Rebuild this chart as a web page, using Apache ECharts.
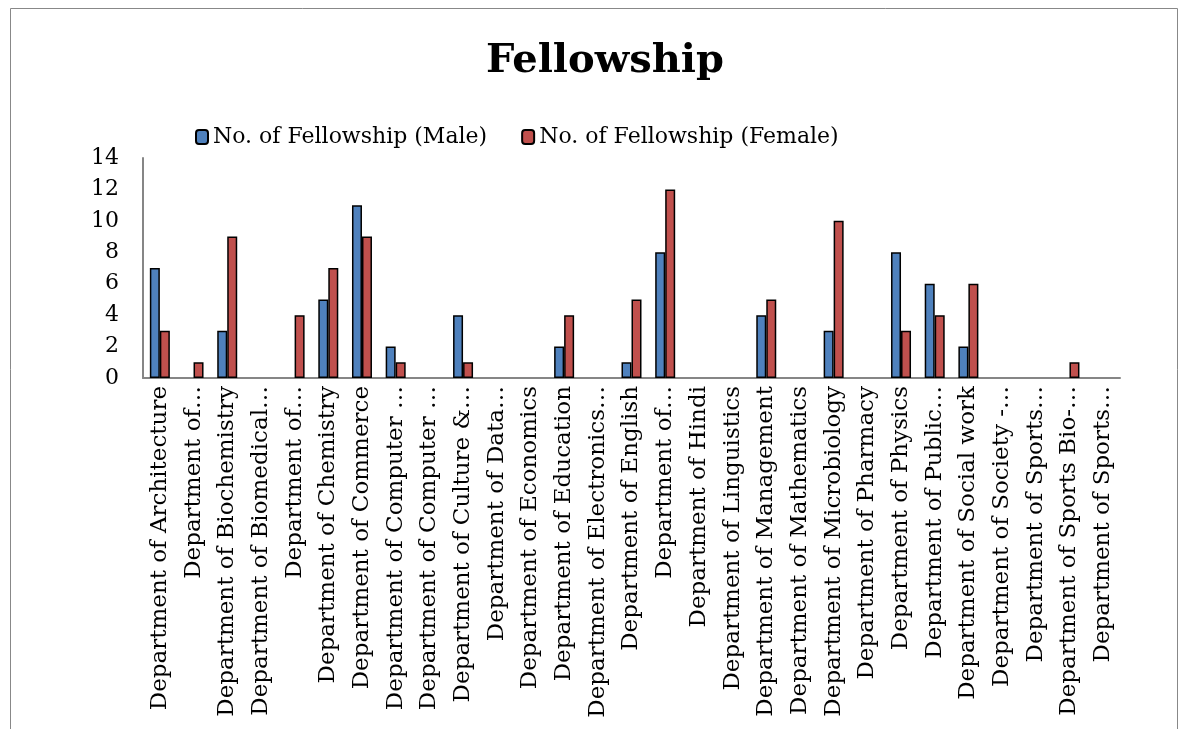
<!DOCTYPE html>
<html><head><meta charset="utf-8">
<script src="https://cdn.jsdelivr.net/npm/echarts@6/dist/echarts.min.js"></script>
<style>html,body{margin:0;padding:0;background:#fff}#c{width:1188px;height:729px}</style>
</head><body><div id="c"></div>
<script>
const categories = [
  "Department of Architecture","Department of…","Department of Biochemistry","Department of Biomedical…",
  "Department of…","Department of Chemistry","Department of Commerce","Department of Computer …",
  "Department of Computer …","Department of Culture &…","Department of Data…","Department of Economics",
  "Department of Education","Department of Electronics…","Department of English","Department of…",
  "Department of Hindi","Department of Linguistics","Department of Management","Department of Mathematics",
  "Department of Microbiology","Department of Pharmacy","Department of Physics","Department of Public…",
  "Department of Social work","Department of Society -…","Department of Sports…","Department of Sports Bio-…",
  "Department of Sports…"
];
const male   = [7,0,3,0,0,5,11,2,0,4,0,0,2,0,1,8,0,0,4,0,3,0,8,6,2,0,0,0,0];
const female = [3,1,9,0,4,7,9,1,0,1,0,0,4,0,5,12,0,0,5,0,10,0,3,4,6,0,0,1,0];
const yTicks = [0,2,4,6,8,10,12,14];

const FONT = "DejaVu Serif";
const hideZero = arr => arr.map(v => (v === 0 ? null : v));
const chart = echarts.init(document.getElementById('c'));
chart.setOption({
  animation:false,
  backgroundColor:'#fff',
  graphic:[{type:'rect',shape:{x:10.5,y:8.5,width:1167,height:730},style:{fill:'none',stroke:'#888',lineWidth:1}}],
  title:{text:'Fellowship',left:481,top:37,textStyle:{fontFamily:FONT,fontSize:40,fontWeight:'bold',color:'#000'}},
  legend:{top:121,left:190,itemGap:34,itemWidth:12,itemHeight:14,
    textStyle:{fontFamily:FONT,fontSize:22,color:'#000'},
    data:['No. of Fellowship (Male)','No. of Fellowship (Female)']},
  grid:{left:143,right:68,top:158,bottom:351,containLabel:false},
  xAxis:{type:'category',data:categories,
    axisLine:{lineStyle:{color:'#868686',width:2}},axisTick:{show:false},
    axisLabel:{rotate:90,interval:0,margin:8,fontFamily:FONT,fontSize:23,color:'#000'}},
  yAxis:{type:'value',min:yTicks[0],max:yTicks[yTicks.length-1],interval:2,
    splitLine:{show:false},
    axisLine:{show:true,lineStyle:{color:'#868686',width:2}},axisTick:{show:false},
    axisLabel:{fontFamily:FONT,fontSize:22,color:'#000',margin:24}},
  series:[
    {name:'No. of Fellowship (Male)',type:'bar',data:hideZero(male),barWidth:10,barGap:'0%',
     itemStyle:{color:'#4F81BD',borderColor:'#000',borderWidth:1.5}},
    {name:'No. of Fellowship (Female)',type:'bar',data:hideZero(female),barWidth:10,
     itemStyle:{color:'#C0504D',borderColor:'#000',borderWidth:1.5}}
  ]
});
</script></body></html>
